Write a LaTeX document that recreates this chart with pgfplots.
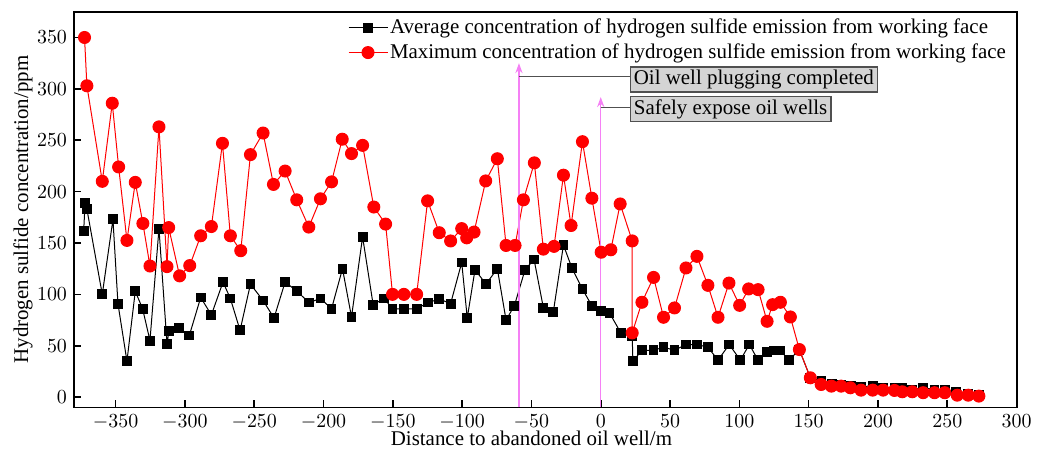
\documentclass[border=0pt]{standalone}
\usepackage{pgfplots}
\pgfplotsset{compat=1.18}
\usepackage{fontspec}
\setmainfont{Liberation Serif}
\usetikzlibrary{arrows.meta}

\definecolor{markline}{RGB}{245,128,245}
\definecolor{notefill}{RGB}{212,212,212}
\definecolor{noteedge}{RGB}{80,80,80}

% Average concentration along the face advance
\pgfplotstableread{
x y
-373 162
-372 189
-370.7 183
-359.6 100
-351.9 173
-348.3 91
-341.8 35
-335.8 103
-330.5 86
-325.2 55
-318.7 164
-312.9 52
-311.5 64
-304.3 67
-296.8 60
-288.6 97
-280.9 80
-272.5 112
-267.2 96
-260.2 65
-252.7 110
-243.6 94
-235.7 77
-227.7 112
-219 103
-210.6 92
-202.2 96
-194.2 86
-186.3 125
-179.8 78
-171.8 156
-164.2 90
-156.2 96
-150.2 86
-142 86
-132.8 86
-124.4 92
-116.5 95.5
-108.3 91
-100.3 131
-96.3 77
-90.7 124
-82.8 110
-74.6 125
-68.3 75
-62.3 89
-54.6 124
-48.1 134
-41.4 87
-34.2 83
-26.9 148
-20.9 126
-13.2 105
-6.4 89
0.3 84
6.3 82
14.5 62.5
22.7 59
23.2 35
29.7 45.5
38.1 45.5
45.3 48.6
53.2 45.6
61.5 51.2
69.4 51.2
77.3 48.6
84.6 36
92.7 51.2
100.7 36
107.2 51.2
113.5 36
120 43.7
124.7 45.4
129.6 45.4
135.6 36
143.3 46
151.2 19
159.2 16
166.9 13
173.4 12.3
180.6 10.7
187.8 9.7
196.2 11.4
203.7 9.1
211.9 9.1
217.5 8.7
224.7 7.5
232.6 9.1
240.8 7.5
248.2 7.5
256 4.9
265.1 3.6
272.8 1.9
}\avgdata

% Maximum concentration along the face advance
\pgfplotstableread{
x y
-372.4 350
-370.7 303
-359.6 210
-352.4 286
-347.8 224
-341.8 152.5
-335.8 209
-330.3 169
-325.2 127.6
-318.7 263
-312.9 127
-311.7 165
-303.8 118
-296.5 128
-288.6 157
-280.9 166
-272.9 247
-267.2 157
-259.7 142.5
-252.7 236
-243.6 257
-236.1 207
-227.7 220
-219.3 192
-210.6 165.5
-202.2 193
-194.2 209.5
-186.5 251
-179.8 237
-171.8 245
-163.7 185
-155.2 168.4
-150.2 100
-142 100
-132.8 100
-124.9 191
-116.5 160
-108.3 152
-100.3 164
-96.7 155
-91.4 160.6
-83 210.4
-74.6 232
-68.3 147.6
-61.8 147.6
-55.8 192
-47.9 228
-41.4 144
-33.7 146.7
-26.9 216
-21.4 167
-13.2 248.6
-6.4 193.6
0.3 141
7.3 143.4
14 188
22.7 152
22.7 62.5
29.7 92.3
38.1 116.5
45.3 77.7
53.2 86.8
61.5 125.7
69.4 137
77.3 108.8
84.6 77.7
92.5 111
100.2 89.3
106.7 105.3
113.5 104.6
120 73.8
124 90
129.6 92.3
136.8 78
143.3 46.3
151.2 18.8
159 12.3
166.4 10.7
173.4 10.7
180.1 9.1
187.8 6.8
196.2 6.8
203.7 6.8
211.9 6.5
217.5 5.2
224.7 5.2
232.6 4.3
240.8 4.3
248.2 4.3
257.2 1.9
265.1 1.9
272.8 1
}\maxdata

\begin{document}
\begin{tikzpicture}
\begin{axis}[
  scale only axis,
  width=471.3bp, height=197.8bp,
  xmin=-380, xmax=300, ymin=-10, ymax=375,
  xtick={-350,-300,...,300},
  ytick={0,50,...,350},
  tick align=inside,
  xtick pos=bottom, ytick pos=left,
  major tick length=3.5bp,
  axis line style={line width=0.9bp},
  every tick/.style={black, line width=0.8bp},
  tick label style={font=\fontsize{10}{12}\selectfont},
  label style={font=\fontsize{10.5}{12.6}\selectfont},
  xlabel={Distance to abandoned oil well/m},
  ylabel={Hydrogen sulfide concentration/ppm},
  xlabel style={at={(axis description cs:0.4853,0)}, anchor=north, inner sep=0pt, yshift=-11.4bp},
  ylabel style={at={(axis description cs:-0.0435,0.5)}, anchor=south, inner sep=0pt},
  legend cell align=left,
  legend style={draw=none, fill=none, at={(axis description cs:0.2907,1)},
    anchor=north west, inner sep=0pt, outer sep=0pt, yshift=-2.6bp,
    font=\fontsize{10.5}{12.6}\selectfont, row sep=1.5bp,
    nodes={inner sep=1bp}},
  legend image code/.code={%
    \draw[mark repeat=2, mark phase=2] plot coordinates {(0bp,0bp) (9.75bp,0bp) (19.5bp,0bp)};},
]
\addplot[black, line width=0.5bp, mark=square*, mark size=2.2bp, mark options={solid, fill=black}]
  table[x=x, y=y] {\avgdata};
\addlegendentry{Average concentration of hydrogen sulfide emission from working face}
\addplot[red, line width=0.5bp, mark=*, mark size=3bp, mark options={solid, fill=red, draw=red}]
  table[x=x, y=y] {\maxdata};
\addlegendentry{Maximum concentration of hydrogen sulfide emission from working face}

% event markers and their call-outs
\draw[markline, line width=0.75bp, -{Stealth[length=5bp, width=3.6bp]}]
  (axis cs:-59,-10) -- (axis cs:-59,325);
\draw[markline, line width=0.75bp, -{Stealth[length=5bp, width=3.6bp]}]
  (axis cs:0,-10) -- (axis cs:0,292);
\draw[noteedge, line width=0.6bp] (axis cs:-59,312.3) -- (axis cs:20.8,312.3);
\draw[noteedge, line width=0.6bp] (axis cs:0,282) -- (axis cs:20.8,282);
\node[draw=noteedge, line width=0.7bp, fill=notefill, anchor=west, inner xsep=1.8bp, inner ysep=1.5bp,
  font=\fontsize{10.5}{12.6}\selectfont] at (axis cs:20.8,309) {Oil well plugging completed};
\node[draw=noteedge, line width=0.7bp, fill=notefill, anchor=west, inner xsep=1.8bp, inner ysep=1.5bp,
  font=\fontsize{10.5}{12.6}\selectfont] at (axis cs:20.8,280.4) {Safely expose oil wells};
\end{axis}
\pgfresetboundingbox
\path[use as bounding box] (-37bp,-21.3bp) rectangle (483bp,203.7bp);
\end{tikzpicture}
\end{document}
